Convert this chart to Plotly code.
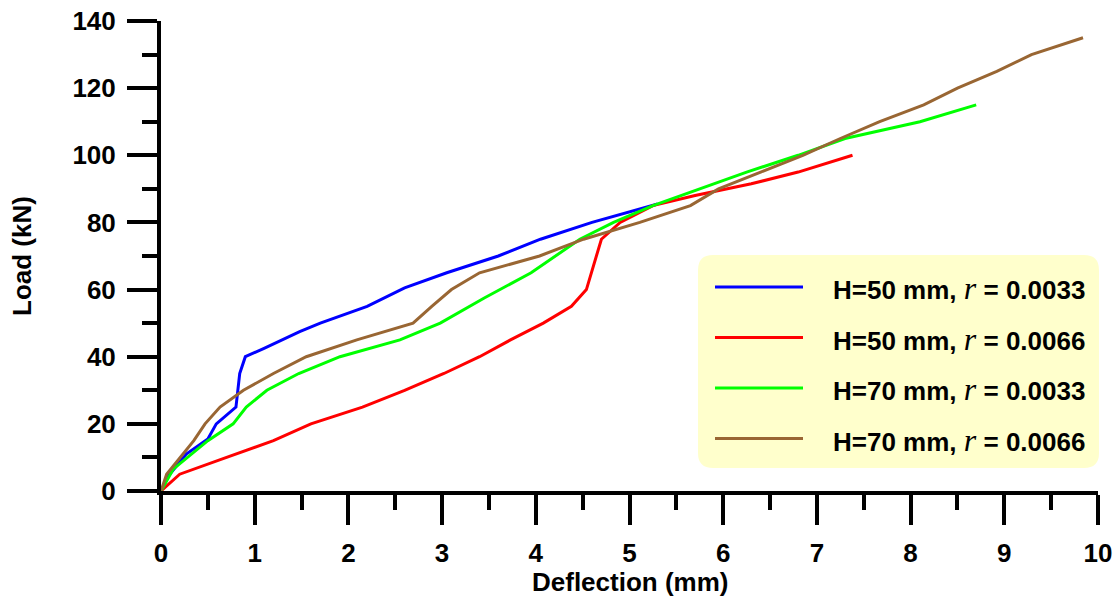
import plotly.graph_objects as go

# ---- data (deflection in mm, load in kN) ----
blue_x = [0, 0.08, 0.27, 0.5, 0.59, 0.80, 0.84, 0.90, 1.1, 1.48, 1.7, 2.2, 2.6, 3.05, 3.6, 4.05, 4.6, 5.18, 5.3]
blue_y = [0, 4.5, 11, 15.5, 20, 25, 35, 40, 42.5, 47.5, 50, 55, 60.5, 65, 70, 75, 80, 84.6, 85.5]

red_x = [0, 0.2, 0.7, 1.2, 1.6, 2.15, 2.6, 3.02, 3.4, 3.73, 4.08, 4.38, 4.54, 4.65, 4.70, 4.9, 5.25, 5.7, 6.3, 6.8, 7.38]
red_y = [0, 5, 10, 15, 20, 25, 30, 35, 40, 45, 50, 55, 60, 70, 75, 80, 85, 88, 91.5, 95, 100]

green_x = [0, 0.13, 0.5, 0.77, 0.91, 1.13, 1.47, 1.91, 2.55, 2.98, 3.45, 3.95, 4.47, 4.83, 5.25, 5.75, 6.25, 6.8, 7.3, 8.1, 8.7]
green_y = [0, 6.5, 15, 20, 25, 30, 35, 40, 45, 50, 57.5, 65, 75, 80, 85, 90, 95, 100, 105, 110, 115]

brown_x = [0, 0.06, 0.35, 0.47, 0.63, 0.88, 1.2, 1.55, 2.09, 2.69, 2.89, 3.1, 3.4, 4.04, 4.51, 5.11, 5.65, 5.95, 6.4, 6.85, 7.25, 7.67, 8.14, 8.5, 8.92, 9.29, 9.84]
brown_y = [0, 5, 15, 20, 25, 30, 35, 40, 45, 50, 55, 60, 65, 70, 75, 80, 85, 90, 95, 100, 105, 110, 115, 120, 125, 130, 135]

series_names = ["H=50 mm", "H=50 mm", "H=70 mm", "H=70 mm"]
series_ratio = ["0.0033", "0.0066", "0.0033", "0.0066"]
series_colors = ["#0000FF", "#FF0000", "#00FF00", "#996633"]
series_x = [blue_x, red_x, green_x, brown_x]
series_y = [blue_y, red_y, green_y, brown_y]

x_title = "Deflection (mm)"
y_title = "Load (kN)"

# ---- layout geometry ----
W, H = 1120, 597
ML, MR, MT, MB = 161, 22, 21, 106
PW, PH = W - ML - MR, H - MT - MB

def px_to_paper(px, py):
    return (px - ML) / PW, (H - MB - py) / PH

FONT = "Liberation Sans, Arial, sans-serif"
FS = 26

fig = go.Figure()
for nm, rt, col, xs, ys in zip(series_names, series_ratio, series_colors, series_x, series_y):
    fig.add_trace(go.Scatter(x=xs, y=ys, mode="lines", name=f"{nm}, r = {rt}",
                             line=dict(color=col, width=3), showlegend=False))

# ---- custom legend (rounded yellow box) ----
bx0, by0 = px_to_paper(698, 468)
bx1, by1 = px_to_paper(1099, 255)
rx, ry = 15 / PW, 15 / PH
path = (f"M {bx0+rx},{by0} L {bx1-rx},{by0} Q {bx1},{by0} {bx1},{by0+ry} "
        f"L {bx1},{by1-ry} Q {bx1},{by1} {bx1-rx},{by1} L {bx0+rx},{by1} "
        f"Q {bx0},{by1} {bx0},{by1-ry} L {bx0},{by0+ry} Q {bx0},{by0} {bx0+rx},{by0} Z")
shapes = [dict(type="path", xref="paper", yref="paper", path=path,
               fillcolor="#FFFFCC", line=dict(width=0), layer="below")]
annotations = []
row_y = [287, 337.5, 388, 438.5]
for i, (nm, rt, col) in enumerate(zip(series_names, series_ratio, series_colors)):
    lx0, ly = px_to_paper(715, row_y[i])
    lx1, _ = px_to_paper(803, row_y[i])
    shapes.append(dict(type="line", xref="paper", yref="paper", x0=lx0, x1=lx1, y0=ly, y1=ly,
                       line=dict(color=col, width=3)))
    tx, ty = px_to_paper(831, row_y[i] + 1)
    txt = (f"{nm}, <span style=\"font-family:'Liberation Serif','Times New Roman',serif;"
           f"font-style:italic;font-weight:normal;font-size:32px\">r</span> = {rt}")
    annotations.append(dict(x=tx, y=ty, xref="paper", yref="paper", text=txt, showarrow=False,
                            xanchor="left", yanchor="middle",
                            font=dict(family=FONT, size=FS, color="black", weight="bold")))

# axis titles
xtx, xty = px_to_paper(630, 582)
annotations.append(dict(x=xtx, y=xty, xref="paper", yref="paper", text=x_title, showarrow=False,
                        xanchor="center", yanchor="middle",
                        font=dict(family=FONT, size=FS, color="black", weight="bold")))
ytx, yty = px_to_paper(22, 256)
annotations.append(dict(x=ytx, y=yty, xref="paper", yref="paper", text=y_title, showarrow=False,
                        xanchor="center", yanchor="middle", textangle=-90,
                        font=dict(family=FONT, size=FS, color="black", weight="bold")))

axis_common = dict(
    showgrid=False, zeroline=False, showline=True, linecolor="black", linewidth=4,
    ticks="outside", ticklen=30, tickwidth=3.5, tickcolor="black", automargin=False,
    tickfont=dict(family=FONT, size=FS, color="black", weight="bold"),
)

fig.update_layout(
    width=W, height=H,
    margin=dict(l=ML, r=MR, t=MT, b=MB, autoexpand=False),
    plot_bgcolor="white", paper_bgcolor="white",
    xaxis=dict(range=[0, 10], dtick=1, tick0=0,
               minor=dict(dtick=0.5, ticks="outside", ticklen=15, tickwidth=3.5, tickcolor="black"),
               ticklabelstandoff=6,
               **axis_common),
    yaxis=dict(range=[0, 140], dtick=20, tick0=0,
               minor=dict(dtick=10, ticks="outside", ticklen=15, tickwidth=3.5, tickcolor="black"),
               ticklabelstandoff=6,
               **axis_common),
    shapes=shapes,
    annotations=annotations,
    showlegend=False,
)

fig.write_html("out.html", config={"displayModeBar": False},
               post_script="document.body.style.margin='0px';")
